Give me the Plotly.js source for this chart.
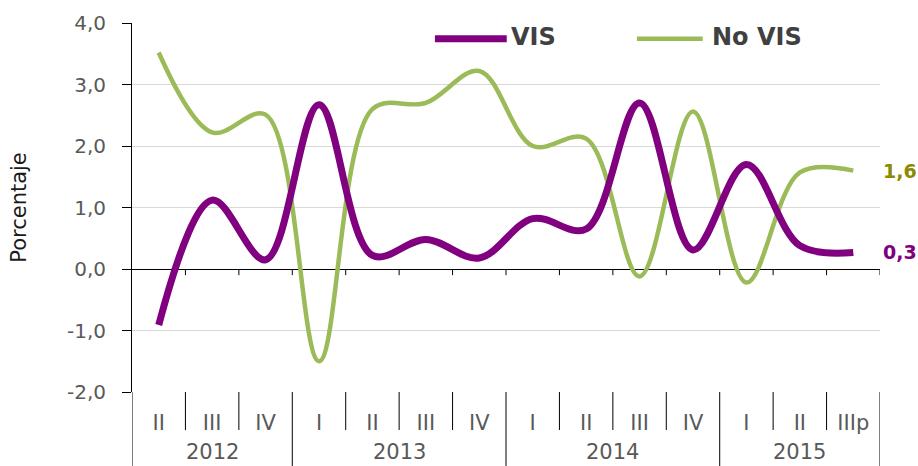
<!DOCTYPE html>
<html>
<head>
<meta charset="utf-8">
<script src="https://cdn.plot.ly/plotly-3.0.1.min.js"></script>
<style>html,body{margin:0;padding:0;background:#fff;}#chart{width:918px;height:466px;}</style>
</head>
<body>
<div id="chart"></div>
<script>
// ---- data ----
const quarters = ["II","III","IV","I","II","III","IV","I","II","III","IV","I","II","IIIp"];
const years    = ["2012","2012","2012","2013","2013","2013","2013","2014","2014","2014","2014","2015","2015","2015"];
const vis      = [-0.91, 1.12, 0.15, 2.67, 0.22, 0.48, 0.18, 0.82, 0.65, 2.70, 0.31, 1.70, 0.38, 0.27];
const noVis    = [3.52, 2.22, 2.51, -1.50, 2.60, 2.70, 3.22, 2.00, 2.12, -0.12, 2.56, -0.22, 1.57, 1.60];
const yTickVals = [-2, -1, 0, 1, 2, 3, 4];
const yTickText = ["-2,0", "-1,0", "0,0", "1,0", "2,0", "3,0", "4,0"];
const seriesNames = ["VIS", "No VIS"];

// ---- styles ----
const purple = "#800080";
const green = "#9BBB59";
const olive = "#8C8A00";
const FONT = "DejaVu Sans";
const idx = quarters.map((_, i) => i);

const traces = [
  {x: idx, y: noVis, type: "scatter", mode: "lines", name: seriesNames[1],
   line: {color: green, width: 4.5, shape: "spline", smoothing: 1}, hoverinfo: "skip"},
  {x: idx, y: vis, type: "scatter", mode: "lines", name: seriesNames[0],
   line: {color: purple, width: 7, shape: "spline", smoothing: 1}, hoverinfo: "skip"}
];

const shapes = [];
const annotations = [];
const tableShort = -0.103, tableFull = -0.2005;
// table separators and zero-line ticks
for (let i = 1; i <= quarters.length; i++) {
  const b = i - 0.5;
  const yearBreak = (i === quarters.length) || years[i] !== years[i - 1];
  shapes.push({type: "line", xref: "x", yref: "paper", x0: b, x1: b, y0: 0,
               y1: yearBreak ? tableFull : tableShort, line: {color: "#000", width: 1}});
  shapes.push({type: "line", xref: "x", yref: "y", x0: b, x1: b, y0: 0, y1: -0.1,
               line: {color: "#000", width: 1}});
}
// left axis extension into table
shapes.push({type: "line", xref: "x", yref: "paper", x0: -0.5, x1: -0.5, y0: 0, y1: tableFull,
             line: {color: "#000", width: 1}});

// year labels
const uniqYears = [...new Set(years)];
uniqYears.forEach(yr => {
  const ids = idx.filter(i => years[i] === yr);
  const c = (ids[0] + ids[ids.length - 1]) / 2;
  annotations.push({x: c, y: -0.162, xref: "x", yref: "paper", text: yr, showarrow: false,
    xanchor: "center", yanchor: "middle", font: {family: FONT, size: 21, color: "#595959"}});
});

// end labels
const last = quarters.length - 1;
const fmt = v => v.toFixed(1).replace(".", ",");
annotations.push({x: last, y: noVis[last], xref: "x", yref: "y", text: "<b>" + fmt(noVis[last]) + "</b>",
  showarrow: false, xanchor: "left", yanchor: "middle", xshift: 28,
  font: {family: FONT, size: 19, color: olive}});
annotations.push({x: last, y: vis[last], xref: "x", yref: "y", text: "<b>" + fmt(vis[last]) + "</b>",
  showarrow: false, xanchor: "left", yanchor: "middle", xshift: 28,
  font: {family: FONT, size: 19, color: purple}});

// manual legend
const legendItems = [
  {name: seriesNames[0], color: purple, width: 7, x0: 0.405, x1: 0.501, tx: 0.504},
  {name: seriesNames[1], color: green, width: 4.5, x0: 0.675, x1: 0.763, tx: 0.773}
];
legendItems.forEach(it => {
  shapes.push({type: "line", xref: "paper", yref: "paper", x0: it.x0, x1: it.x1, y0: 0.957, y1: 0.957,
               line: {color: it.color, width: it.width}});
  annotations.push({x: it.tx, y: 0.962, xref: "paper", yref: "paper", text: "<b>" + it.name + "</b>",
    showarrow: false, xanchor: "left", yanchor: "middle",
    font: {family: FONT, size: 24, color: "#404040"}});
});

const layout = {
  width: 918, height: 466,
  margin: {l: 132, r: 38, t: 23, b: 74, pad: 0},
  paper_bgcolor: "#fff", plot_bgcolor: "#fff",
  showlegend: false,
  font: {family: FONT, color: "#595959"},
  xaxis: {
    range: [-0.5, quarters.length - 0.5], tickvals: idx, ticktext: quarters,
    ticks: "outside", ticklen: 12, tickcolor: "rgba(0,0,0,0)",
    tickfont: {family: FONT, size: 21, color: "#595959"},
    showgrid: false, zeroline: false, showline: false, fixedrange: true
  },
  yaxis: {
    range: [-2, 4], tickvals: yTickVals, ticktext: yTickText,
    ticks: "outside", ticklen: 9, tickcolor: "#000", tickwidth: 1,
    ticklabelstandoff: 12,
    tickfont: {family: FONT, size: 20, color: "#595959"},
    showgrid: true, gridcolor: "#D9D9D9", gridwidth: 1,
    zeroline: true, zerolinecolor: "#000", zerolinewidth: 1,
    showline: true, linecolor: "#000", linewidth: 1,
    title: {text: "Porcentaje", font: {family: FONT, size: 21, color: "#1a1a1a"}, standoff: 34},
    fixedrange: true
  },
  shapes: shapes,
  annotations: annotations
};

Plotly.newPlot("chart", traces, layout, {displayModeBar: false, staticPlot: true});
</script>
</body>
</html>
